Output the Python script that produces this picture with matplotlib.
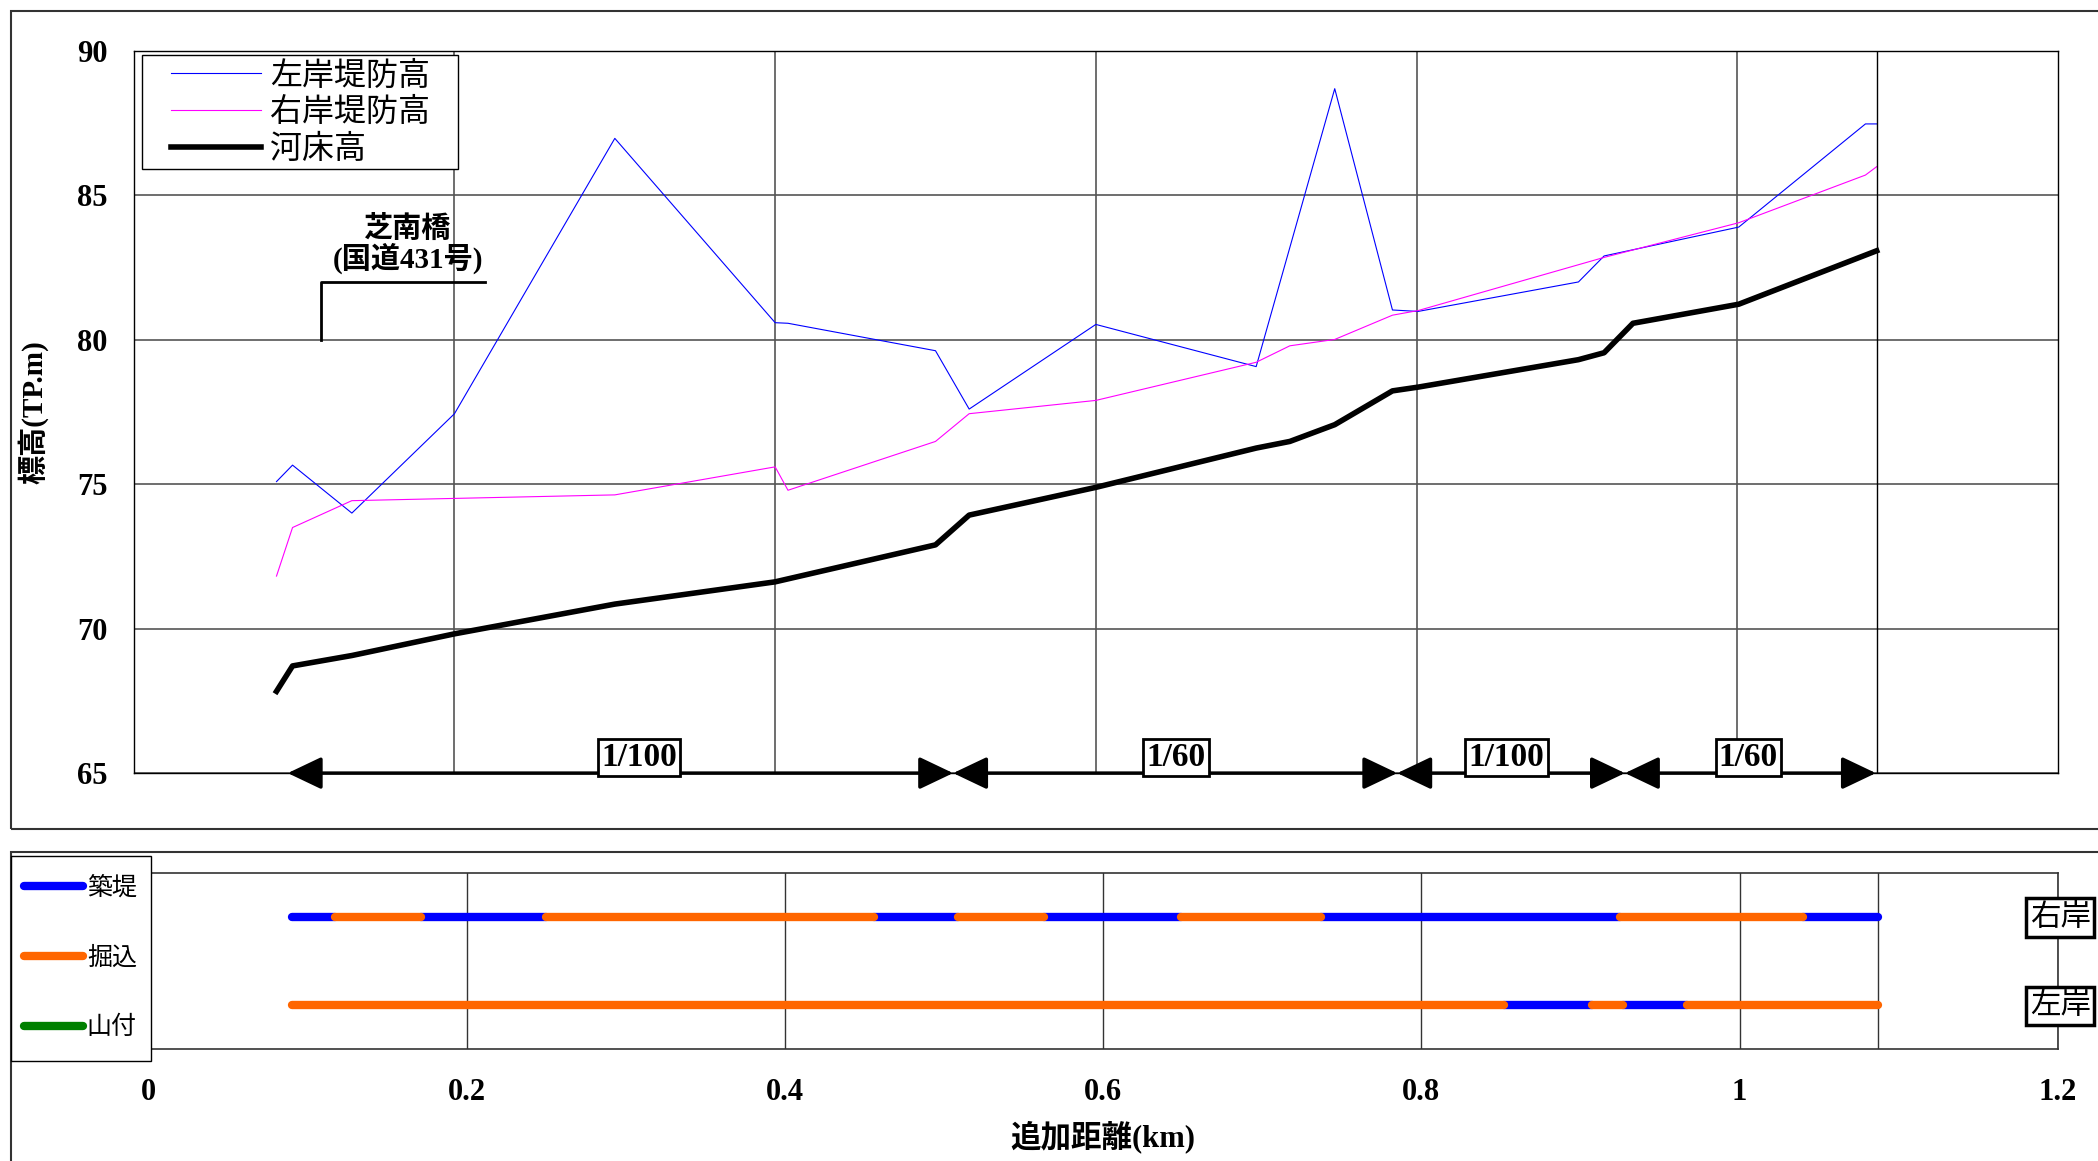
import matplotlib
matplotlib.use('Agg')
import matplotlib.pyplot as plt
from matplotlib.lines import Line2D
from matplotlib.patches import Rectangle, FancyArrowPatch

# fonts: latin in bold serif, japanese falls back to Noto Sans CJK JP
SERIF = ['Liberation Serif', 'Noto Sans CJK JP', 'DejaVu Sans']
GOTHIC = ['Noto Sans CJK JP', 'DejaVu Sans']

# ---- data ----
# left bank levee height (左岸堤防高)
left_x = [0.089, 0.099, 0.136, 0.200, 0.300, 0.400, 0.408, 0.500, 0.521, 0.600,
          0.700, 0.749, 0.785, 0.801, 0.901, 0.917, 1.001, 1.080, 1.087]
left_y = [75.09, 75.66, 74.00, 77.44, 86.97, 80.59, 80.57, 79.62, 77.60, 80.53,
          79.07, 88.69, 81.03, 80.98, 82.00, 82.90, 83.90, 87.47, 87.47]

# right bank levee height (右岸堤防高)
right_x = [0.089, 0.099, 0.136, 0.300, 0.400, 0.408, 0.500, 0.521, 0.600, 0.700,
           0.721, 0.749, 0.785, 0.801, 0.917, 1.001, 1.080, 1.087]
right_y = [71.82, 73.50, 74.43, 74.63, 75.60, 74.79, 76.48, 77.44, 77.90, 79.22,
           79.79, 80.01, 80.85, 81.01, 82.85, 84.05, 85.70, 85.99]

# river bed (河床高)
bed_x = [0.089, 0.099, 0.136, 0.200, 0.300, 0.400, 0.500, 0.521, 0.600, 0.700,
         0.721, 0.749, 0.785, 0.801, 0.901, 0.917, 0.935, 1.001, 1.087]
bed_y = [67.83, 68.71, 69.07, 69.82, 70.85, 71.62, 72.90, 73.93, 74.89, 76.25,
         76.48, 77.06, 78.23, 78.36, 79.31, 79.55, 80.57, 81.23, 83.08]

# bed gradient sections
grad_bounds = [0.096, 0.511, 0.788, 0.930, 1.0865]
grad_labels = ['1/100', '1/60', '1/100', '1/60']
grad_label_x = [0.315, 0.650, 0.856, 1.007]

# bank type along each side
rb_bounds = [0.090, 0.117, 0.171, 0.250, 0.456, 0.509, 0.563, 0.649, 0.737, 0.925, 1.040, 1.087]
rb_types = ['築堤', '掘込', '築堤', '掘込', '築堤', '掘込', '築堤', '掘込', '築堤', '掘込', '築堤']
lb_bounds = [0.090, 0.852, 0.907, 0.927, 0.967, 1.087]
lb_types = ['掘込', '築堤', '掘込', '築堤', '掘込']

type_colors = {'築堤': '#0000FF', '掘込': '#FF6600', '山付': '#008000'}
type_z = {'築堤': 3, '掘込': 4, '山付': 3}

end_x = 1.087

W, H = 1568, 868
fig = plt.figure(figsize=(20.98, 11.61), dpi=100)

# outer frames
fig.patches.append(Rectangle((8 / W, 1 - 620 / H), 1.2, 612 / H, transform=fig.transFigure,
                             fill=False, ec='#333333', lw=1.5))
fig.patches.append(Rectangle((8 / W, -0.2), 1.2, 0.2 + 1 - 637 / H, transform=fig.transFigure,
                             fill=False, ec='#333333', lw=1.5))

###-------------------###
### LONGITUDINAL PLOT ###
###-------------------###
ax = fig.add_axes([100 / W, 1 - 578 / H, 1438 / W, 540 / H])
ax.plot(left_x, left_y, color='#0000FF', lw=0.8, label='左岸堤防高')
ax.plot(right_x, right_y, color='#FF00FF', lw=0.8, label='右岸堤防高')
ax.plot(bed_x, bed_y, color='black', lw=4, label='河床高')
ax.set_xlim(0, 1.2)
ax.set_ylim(65, 90)
ax.set_xticks([0.2, 0.4, 0.6, 0.8, 1.0])
ax.set_xticklabels([])
ax.set_yticks([65, 70, 75, 80, 85, 90])
ax.set_yticklabels(['65', '70', '75', '80', '85', '90'], family=SERIF, weight='bold', fontsize=22)
ax.tick_params(length=0, pad=19)
ax.grid(True, color='#555555', lw=1.2)
ax.axvline(end_x, color='black', lw=1)
for s in ax.spines.values():
    s.set_color('black')
    s.set_linewidth(1)

# bridge annotation
ax.plot([0.117, 0.117, 0.219], [80, 82, 82], color='black', lw=2)
ax.text(0.171, 82.28, '芝南橋\n(国道431号)', ha='center', va='bottom', fontsize=21,
        family=SERIF, weight='bold', linespacing=1.0)

# gradient arrows
for i in range(len(grad_labels)):
    a = FancyArrowPatch((grad_bounds[i], 65), (grad_bounds[i + 1], 65),
                        arrowstyle='<|-|>,head_length=21,head_width=10', mutation_scale=1,
                        color='black', lw=2.5, shrinkA=0, shrinkB=0, clip_on=False, zorder=5)
    ax.add_patch(a)
    ax.text(grad_label_x[i], 65.0, grad_labels[i], ha='center', va='bottom',
            fontsize=24, family=SERIF, weight='bold', zorder=6,
            bbox=dict(boxstyle='square,pad=0.1', fc='white', ec='black', lw=2))

# legend: frame drawn separately so the padding matches
ax.add_patch(Rectangle((6 / 1438, (578 - 126) / 540), 236 / 1438, 85 / 540, transform=ax.transAxes,
                       fc='white', ec='black', lw=1, zorder=4.9))
leg = ax.legend(loc='center left', bbox_to_anchor=(28 / 1438, (578 - 84) / 540), borderaxespad=0,
                prop={'family': GOTHIC, 'size': 23}, frameon=False,
                handlelength=2.8, handletextpad=0.3, labelspacing=0.15, borderpad=0)
leg.set_zorder(5)

ax.set_ylabel('標高(TP.m)', family=SERIF, weight='bold', fontsize=21, labelpad=0)
ax.yaxis.set_label_coords(-(100 - 36) / 1438, 0.5)

###-----------------###
### BANK TYPE STRIP ###
###-----------------###
ax2 = fig.add_axes([111 / W, 1 - 784 / H, 1427 / W, 131 / H])
for bounds, types, yy in [(rb_bounds, rb_types, 3), (lb_bounds, lb_types, 1)]:
    for i, t in enumerate(types):
        ax2.plot([bounds[i], bounds[i + 1]], [yy, yy], color=type_colors[t], lw=6,
                 solid_capstyle='round', zorder=type_z[t])
ax2.set_xlim(0, 1.2)
ax2.set_ylim(0, 4)
ax2.set_yticks([])
ax2.set_xticks([0, 0.2, 0.4, 0.6, 0.8, 1.0, 1.2])
ax2.set_xticklabels(['0', '0.2', '0.4', '0.6', '0.8', '1', '1.2'], family=SERIF, weight='bold', fontsize=22)
ax2.tick_params(length=0, pad=21)
ax2.grid(True, axis='x', color='#333333', lw=1)
ax2.axvline(end_x, color='#333333', lw=1)
for s in ax2.spines.values():
    s.set_color('#333333')
    s.set_linewidth(1.2)
ax2.set_xlabel('追加距離(km)', family=SERIF, weight='bold', fontsize=22, labelpad=10)

# bank type legend: frame drawn separately so the padding matches
fig.patches.append(Rectangle((8 / W, 1 - 793 / H), 105 / W, 153 / H, transform=fig.transFigure,
                             fc='white', ec='black', lw=1, zorder=4))
handles = [Line2D([], [], color=type_colors[k], lw=6, solid_capstyle='round') for k in ['築堤', '掘込', '山付']]
leg2 = fig.legend(handles, ['築堤', '掘込', '山付'], loc='center left', bbox_to_anchor=(18 / W, 1 - 716 / H),
                  borderaxespad=0, prop={'family': GOTHIC, 'size': 18}, frameon=False,
                  handlelength=2.35, handletextpad=0.16, labelspacing=1.75, borderpad=0)
leg2.set_zorder(6)

for lbl, yy in [('右岸', 686), ('左岸', 752)]:
    fig.text(1517 / W, 1 - yy / H, lbl, ha='left', va='center', fontsize=22, family=GOTHIC,
             bbox=dict(boxstyle='square,pad=0.12', fc='white', ec='black', lw=2.5))

fig.savefig('out.png', dpi=100)
